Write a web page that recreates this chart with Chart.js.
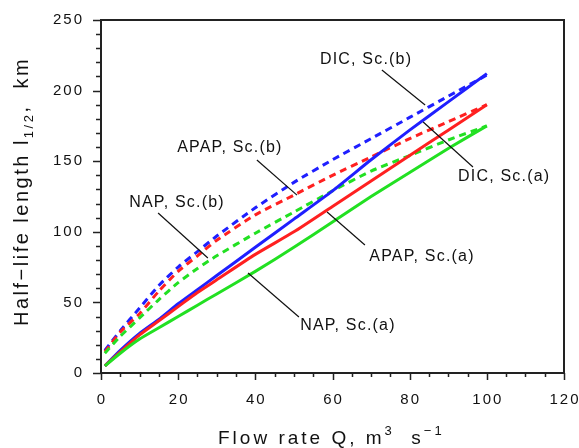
<!DOCTYPE html>
<html>
<head>
<meta charset="utf-8">
<script src="https://cdn.jsdelivr.net/npm/chart.js@4/dist/chart.umd.min.js"></script>
<style>
  html, body { margin: 0; padding: 0; background: #fff; }
  #wrap { width: 579px; height: 448px; }
</style>
</head>
<body>
<div id="wrap"><canvas id="chart"></canvas></div>
<script>
// flow rate Q (m3/s)
const flowRates = [1, 5, 10, 15, 20, 25, 30, 40, 50, 60, 70, 80, 90, 100];

// half-life length, km
const dicA  = [5, 16, 28, 38, 49, 59, 69, 89, 109, 129, 151, 172, 192, 212];
const apapA = [5, 15, 27, 37, 47, 57, 66, 84, 100, 118, 136, 154, 172, 190];
const napA  = [5, 14, 24, 32, 40, 48, 56, 72, 89, 107, 125, 142, 159, 175];
const dicB  = [16, 30, 46, 62, 75, 86, 97, 117, 135, 151, 166, 181, 196, 211];
const apapB = [15, 29, 42, 58, 72, 83, 94, 112, 126, 140, 153, 166, 178, 190];
const napB  = [14, 26, 39, 52, 64, 74, 83, 99, 114, 129, 143, 154, 165, 175];

const xTicks = [0, 20, 40, 60, 80, 100, 120];
const yTicks = [0, 50, 100, 150, 200, 250];

// curve labels: text spot and leader line, in data units
const curveLabels = [
  { text: 'DIC, Sc.(b)',  at: [68.7, 221.7], from: [72.8, 214.6], to: [84, 189.8] },
  { text: 'DIC, Sc.(a)',  at: [104.5, 138.8], from: [96.4, 145.9], to: [83.5, 177.8] },
  { text: 'APAP, Sc.(b)', at: [33.4, 159.3], from: [40.4, 150.8], to: [50.8, 126] },
  { text: 'NAP, Sc.(b)',  at: [19.7, 120.4], from: [14.8, 113.3], to: [27.7, 81.4] },
  { text: 'APAP, Sc.(a)', at: [83.2, 82.2], from: [68.4, 90.7], to: [58.6, 114] },
  { text: 'NAP, Sc.(a)',  at: [64, 33.3], from: [51.3, 39.7], to: [38.1, 70.8] }
];

const BLUE = '#1f1fff', RED = '#ff2020', GREEN = '#22e022';

function series(label, values, color, dashed) {
  return {
    label: label,
    data: flowRates.map((q, i) => ({ x: q, y: values[i] })),
    borderColor: color,
    borderWidth: 3,
    borderDash: dashed ? [7, 5] : [],
    pointRadius: 0,
    tension: 0.2,
    fill: false
  };
}

const FONT = '"Liberation Sans", Arial, sans-serif';

const decor = {
  id: 'decor',
  afterDraw(chart) {
    const ctx = chart.ctx;
    const a = chart.chartArea;
    const xs = chart.scales.x, ys = chart.scales.y;
    ctx.save();
    ctx.strokeStyle = '#222';
    ctx.fillStyle = '#111';

    // frame
    ctx.lineWidth = 2;
    ctx.strokeRect(a.left, a.top, a.right - a.left, a.bottom - a.top);

    // major and minor ticks
    ctx.lineWidth = 1.5;
    ctx.beginPath();
    for (let v = 0; v <= 250; v += 10) {
      const y = Math.round(ys.getPixelForValue(v)) + 0.5;
      const len = v % 50 === 0 ? 8 : 5;
      ctx.moveTo(a.left - len, y); ctx.lineTo(a.left, y);
    }
    for (let v = 0; v <= 120; v += 5) {
      const x = Math.round(xs.getPixelForValue(v)) + 0.5;
      const len = v % 20 === 0 ? 7 : 4;
      ctx.moveTo(x, a.bottom); ctx.lineTo(x, a.bottom + len);
    }
    ctx.stroke();

    // tick labels
    ctx.font = '15px ' + FONT;
    ctx.letterSpacing = '2px';
    ctx.textBaseline = 'middle';
    ctx.textAlign = 'right';
    yTicks.forEach(v => ctx.fillText(String(v), a.left - 17, ys.getPixelForValue(v)));
    ctx.textAlign = 'center';
    xTicks.forEach(v => ctx.fillText(String(v), xs.getPixelForValue(v) + 1, a.bottom + 27));

    // x title with superscripts
    ctx.textAlign = 'left';
    ctx.textBaseline = 'alphabetic';
    ctx.letterSpacing = '3px';
    let x = 218;
    const yb = 444;
    const parts = [
      ['Flow rate Q, m', 19, 0], ['3', 13, -9], ['  s', 19, 0], ['\u22121', 13, -9]
    ];
    parts.forEach(p => {
      ctx.font = p[1] + 'px ' + FONT;
      ctx.fillText(p[0], x, yb + p[2]);
      x += ctx.measureText(p[0]).width;
    });

    // y title with subscript, rotated
    ctx.save();
    ctx.translate(28, 326);
    ctx.rotate(-Math.PI / 2);
    ctx.letterSpacing = '2.5px';
    x = 0;
    const yparts = [
      ['Half\u2212life length l', 20, 0], ['1/2', 13, 5], [',  km', 20, 0]
    ];
    yparts.forEach(p => {
      ctx.font = p[1] + 'px ' + FONT;
      ctx.fillText(p[0], x, p[2]);
      x += ctx.measureText(p[0]).width;
    });
    ctx.restore();

    // curve labels and leader lines
    ctx.letterSpacing = '1.2px';
    ctx.font = '16px ' + FONT;
    ctx.textAlign = 'center';
    ctx.textBaseline = 'middle';
    ctx.lineWidth = 1.2;
    ctx.strokeStyle = '#111';
    curveLabels.forEach(l => {
      ctx.fillText(l.text, xs.getPixelForValue(l.at[0]), ys.getPixelForValue(l.at[1]));
      ctx.beginPath();
      ctx.moveTo(xs.getPixelForValue(l.from[0]), ys.getPixelForValue(l.from[1]));
      ctx.lineTo(xs.getPixelForValue(l.to[0]), ys.getPixelForValue(l.to[1]));
      ctx.stroke();
    });
    ctx.restore();
  }
};

new Chart(document.getElementById('chart'), {
  type: 'line',
  data: {
    datasets: [
      series('NAP, Sc.(a)', napA, GREEN, false),
      series('APAP, Sc.(a)', apapA, RED, false),
      series('DIC, Sc.(a)', dicA, BLUE, false),
      series('NAP, Sc.(b)', napB, GREEN, true),
      series('APAP, Sc.(b)', apapB, RED, true),
      series('DIC, Sc.(b)', dicB, BLUE, true)
    ]
  },
  options: {
    responsive: true,
    maintainAspectRatio: false,
    animation: false,
    layout: { padding: { left: 101, right: 15, top: 20, bottom: 75 } },
    plugins: { legend: { display: false }, tooltip: { enabled: false } },
    scales: {
      x: { type: 'linear', min: 0, max: 120, display: false },
      y: { type: 'linear', min: 0, max: 250, display: false }
    }
  },
  plugins: [decor]
});
</script>
</body>
</html>
